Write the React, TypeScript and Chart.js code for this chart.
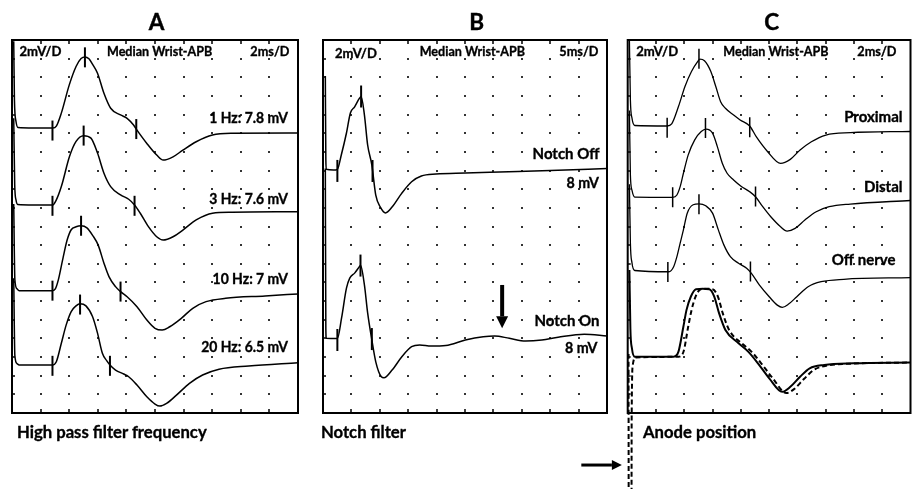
import React, { useEffect, useRef } from "react";
import { Chart, registerables } from "chart.js";

Chart.register(...registerables);

type Pt = [number, number];

// ================= Panel A : high pass filter (ms, mV relative to baseline) =================
const hpfLabels = ["1 Hz: 7.8 mV", "3 Hz: 7.6 mV", "10 Hz: 7 mV", "20 Hz: 6.5 mV"];
const hpf1Hz: Pt[] = [[0.12,9.3],[0.17,3.0],[0.28,0.7],[0.42,0.05],[1.5,0],[2.85,0],[3.1,0.2],[3.45,1.6],[4.0,4.6],[4.48,6.6],[4.83,7.45],[5.1,7.63],[5.38,7.42],[5.66,6.77],[5.98,5.88],[6.43,3.73],[6.9,2.12],[7.59,1.4],[8.05,1.04],[8.5,0.32],[8.74,-0.22],[9.43,-1.65],[10.12,-2.9],[10.57,-3.44],[11.26,-3.09],[11.95,-2.37],[12.88,-1.47],[14.02,-0.75],[15.4,-0.57],[20,-0.54]];
const hpf3Hz: Pt[] = [[0.12,9.3],[0.19,2.15],[0.28,0.54],[0.4,0.05],[1.5,0],[2.85,0],[3.1,0.54],[3.45,1.97],[4.02,5.19],[4.48,6.81],[5.01,7.42],[5.52,7.17],[5.98,5.56],[6.43,3.41],[6.9,1.97],[7.59,1.08],[8.16,0.61],[8.57,0],[8.97,-0.89],[9.54,-2.33],[10.12,-3.41],[10.57,-3.76],[11.26,-3.41],[11.95,-2.69],[12.88,-1.61],[14.02,-0.89],[15.4,-0.78],[20,-0.72]];
const hpf10Hz: Pt[] = [[0.12,9.3],[0.2,1.2],[0.35,0.2],[0.5,0],[2.83,0],[3.03,0.18],[3.24,1.15],[3.57,3.52],[3.86,5.45],[4.14,6.53],[4.48,6.85],[4.83,6.96],[5.24,6.74],[5.66,5.88],[6.02,4.91],[6.43,2.95],[6.78,1.51],[7.24,0.43],[7.59,-0.11],[8.05,-0.65],[8.74,-1.72],[9.43,-3.15],[10.0,-4.04],[10.5,-4.23],[11.03,-3.87],[11.84,-2.97],[12.64,-1.89],[13.57,-1.18],[14.94,-0.82],[17.7,-0.57],[20,-0.35]];
const hpf20Hz: Pt[] = [[0.12,9.3],[0.2,1.0],[0.35,0.15],[0.5,0],[2.83,0],[3.1,0.35],[3.45,2.33],[3.79,4.3],[4.14,5.73],[4.48,6.34],[4.76,6.56],[5.17,6.34],[5.63,5.19],[5.98,3.41],[6.32,1.26],[6.62,0.46],[6.85,0],[7.24,-0.54],[7.81,-0.97],[8.16,-1.26],[8.74,-2.15],[9.43,-3.41],[10.0,-4.19],[10.34,-4.41],[10.81,-4.12],[11.5,-3.23],[12.41,-1.97],[13.33,-1.08],[14.48,-0.46],[16.55,-0.11],[20,0.25]];
const hpfBaselines = [30.56, 22.31, 13.12, 5.15];
const hpfMarkers: Pt[][] = [
  [[2.83,-0.27],[5.1,7.58],[8.69,-0.11]],
  [[2.83,-0.09],[5.01,7.44],[8.57,-0.09]],
  [[2.83,0],[4.83,6.96],[7.59,-0.1]],
  [[2.83,-0.09],[4.76,6.48],[6.85,-0.09]],
];

// ================= Panel B : notch filter =================
const notchLabels = ["Notch Off", "8 mV", "Notch On", "8 mV"];
const notchOff: Pt[] = [[0.41,10.0],[0.5,1.0],[0.58,0],[1.84,-0.08],[2.53,0],[3.22,1.54],[4.13,3.9],[4.82,6.05],[5.57,6.7],[6.43,7.63],[6.71,7.81],[7.29,5.84],[7.86,2.61],[8.6,0.46],[9.29,-2.76],[10.1,-4.05],[11.01,-4.67],[12.16,-4.05],[13.88,-2.55],[15.6,-1.33],[17.32,-0.72],[19.9,-0.51],[25.06,-0.4],[31.08,-0.29],[40.02,-0.13],[50,0.09]];
const notchOn: Pt[] = [[0.41,18.2],[0.5,1.0],[0.58,0],[2.53,-0.02],[3.27,2.18],[4.13,5.38],[4.71,6.45],[5.57,6.99],[6.43,7.7],[6.6,7.83],[7.29,5.73],[7.86,2.72],[8.6,-0.18],[9.29,-2.52],[10.27,-4.13],[10.73,-4.24],[12.16,-3.41],[13.88,-1.98],[15.6,-0.9],[17.03,-0.72],[19.04,-0.83],[21.62,-0.77],[25.06,-0.18],[28.21,0.17],[30.22,0.25],[32.8,0],[35.67,-0.29],[38.53,-0.18],[41.4,0.11],[45.99,0.43],[50,0.25]];
const notchBaselines = [26.13, 8.01];
const notchMarkers: Pt[][] = [
  [[2.53,-0.17],[6.71,7.81],[8.72,-0.18]],
  [[2.53,-0.18],[6.6,7.8],[8.6,-0.08]],
];
const notchArrow = [31.54, 13.73, 9.08]; // ms, from mV, to mV

// ================= Panel C : anode position =================
const anodeLabels = ["Proximal", "Distal", "Off nerve"];
const anodeProximal: Pt[] = [[0.12,9.3],[0.19,2.8],[0.3,0.86],[0.5,0.05],[2.79,0],[3.11,0.22],[3.59,2.08],[4.05,4.23],[4.51,5.84],[4.97,6.95],[5.1,7.17],[5.43,6.99],[5.88,5.84],[6.23,4.23],[6.57,2.61],[6.91,1.9],[7.49,1.18],[7.95,0.65],[8.63,0],[9.09,-1.15],[9.9,-2.76],[10.81,-4.01],[11.5,-3.58],[12.19,-2.58],[12.99,-1.69],[14.02,-0.97],[15.76,-0.72],[20,-0.59]];
const anodeDistal: Pt[] = [[0.12,9.3],[0.19,2.4],[0.3,0.78],[0.5,0.03],[3.18,0],[3.48,0.25],[3.71,1.14],[3.94,2.58],[4.28,4.55],[4.74,6.16],[5.2,7.05],[5.54,7.31],[6.0,6.88],[6.34,5.44],[6.69,3.66],[7.03,2.58],[7.49,1.86],[8.06,1.14],[8.63,0.6],[9.04,0.06],[9.55,-1.01],[10.12,-2.09],[10.81,-3.16],[11.27,-3.62],[11.84,-3.33],[12.53,-2.44],[13.33,-1.55],[14.25,-1.01],[15.74,-0.72],[20,-0.34]];
const anodeOffNerve: Pt[] = [[0.12,9.3],[0.19,3.0],[0.3,0.9],[0.5,0.05],[2.91,-0.08],[3.25,0.46],[3.48,1.54],[3.71,2.98],[3.94,4.41],[4.21,6.2],[4.63,7.1],[5.04,7.2],[5.52,6.99],[6.0,6.2],[6.41,4.41],[6.8,2.8],[7.26,1.54],[7.84,0.83],[8.41,0.29],[8.75,-0.25],[9.32,-1.51],[10.01,-2.76],[10.58,-3.66],[10.93,-3.9],[11.38,-3.55],[11.96,-2.76],[12.76,-1.69],[13.68,-1.15],[15.28,-0.89],[20,-0.71]];
const anodeSolid: Pt[] = [[0.12,9.3],[0.19,3.0],[0.3,0.9],[0.5,0],[3.25,0],[3.59,0.54],[3.94,3.23],[4.16,5.02],[4.47,6.45],[4.83,7.23],[5.31,7.28],[5.77,7.23],[6.12,6.45],[6.46,4.67],[6.91,2.87],[7.84,1.44],[8.52,0.54],[9.21,-0.71],[10.01,-2.32],[10.93,-3.76],[11.5,-3.23],[12.19,-2.15],[12.87,-1.25],[13.9,-0.89],[15.97,-0.71],[20,-0.63]];
const anodeDashed: Pt[] = [[0.06,0.3],[0.07,-16],[0.27,-16],[0.28,-6.8],[0.36,-0.89],[0.57,-0.09],[3.59,0],[3.94,0.5],[4.28,3.23],[4.52,5.02],[4.8,6.45],[5.17,7.23],[5.58,7.28],[6.0,7.23],[6.38,6.45],[6.72,4.67],[7.17,2.87],[8.06,1.44],[8.75,0.54],[9.44,-0.71],[10.26,-2.32],[11.22,-3.9],[11.77,-3.47],[12.46,-2.4],[13.15,-1.43],[14.11,-0.95],[16.1,-0.73],[20,-0.63]];
const anodeBaselines = [30.78, 23.13, 15.23, 6.04];
const anodeMarkers: Pt[][] = [
  [[2.79,-0.2],[5.04,7.22],[8.63,-0.14]],
  [[3.18,0],[5.5,7.42],[9.04,0.1]],
  [[2.84,-0.1],[5.04,7.15],[8.68,-0.05]],
];
const anodeArrow = [-3.28, -0.41, -5.58]; // from ms, to ms, at mV

const headerTexts = ["2mV/D", "Median Wrist-APB"];

// ================= helpers =================
const FONT = "Lato, 'Open Sans', sans-serif";

function trace(points: Pt[], base: number, extra: any = {}) {
  return {
    data: points.map(([x, y]) => ({ x, y: y + base })),
    showLine: true,
    borderColor: "#000",
    borderWidth: 1.5,
    pointRadius: 0,
    cubicInterpolationMode: "monotone",
    fill: false,
    ...extra,
  };
}

function markers(points: Pt[], base: number, r: number, w: number) {
  return {
    data: points.map(([x, y]) => ({ x, y: y + base })),
    showLine: false,
    pointStyle: "line",
    pointRotation: 90,
    pointRadius: r,
    pointBorderWidth: w,
    pointBorderColor: "#000",
    pointBackgroundColor: "#000",
    borderColor: "#000",
  };
}

function drawArrow(ctx: CanvasRenderingContext2D, x1: number, y1: number, x2: number, y2: number, w: number, hl: number, hw: number) {
  const ang = Math.atan2(y2 - y1, x2 - x1);
  const bx = x2 - Math.cos(ang) * hl;
  const by = y2 - Math.sin(ang) * hl;
  ctx.lineWidth = w;
  ctx.beginPath();
  ctx.moveTo(x1, y1);
  ctx.lineTo(bx, by);
  ctx.stroke();
  ctx.beginPath();
  ctx.moveTo(x2, y2);
  ctx.lineTo(bx + Math.sin(ang) * hw / 2, by - Math.cos(ang) * hw / 2);
  ctx.lineTo(bx - Math.sin(ang) * hw / 2, by + Math.cos(ang) * hw / 2);
  ctx.closePath();
  ctx.fill();
}

const emgPlugin = {
  id: "emg",
  beforeDatasetsDraw(chart: any, _a: any, o: any) {
    const { ctx, chartArea: a, scales } = chart;
    const xs = scales.x, ys = scales.y;
    ctx.save();
    ctx.fillStyle = "#333";
    for (let i = 1; i < o.xDivs; i++) {
      const px = xs.getPixelForValue(xs.min + i * o.xStep);
      for (let j = 1; j < o.yDivs; j++) {
        const py = ys.getPixelForValue(ys.min + j * o.yStep);
        ctx.fillRect(Math.round(px) - 1, Math.round(py) - 1, 2, 2);
      }
    }
    ctx.strokeStyle = "#000";
    ctx.lineWidth = 1.5;
    ctx.beginPath();
    for (let i = 1; i < o.xDivs; i++) {
      const px = Math.round(xs.getPixelForValue(xs.min + i * o.xStep));
      ctx.moveTo(px, a.top);
      ctx.lineTo(px, a.top + 4);
      ctx.moveTo(px, a.bottom);
      ctx.lineTo(px, a.bottom - 4);
    }
    for (let j = 1; j < o.yDivs; j++) {
      const py = Math.round(ys.getPixelForValue(ys.min + j * o.yStep));
      ctx.moveTo(a.left, py);
      ctx.lineTo(a.left + 3, py);
    }
    ctx.stroke();
    ctx.restore();
  },
  afterDatasetsDraw(chart: any, _a: any, o: any) {
    const { ctx, chartArea: a, scales } = chart;
    const xs = scales.x, ys = scales.y;
    ctx.save();
    ctx.strokeStyle = "#000";
    ctx.fillStyle = "#000";
    ctx.lineWidth = 2;
    ctx.strokeRect(a.left, a.top, a.right - a.left, a.bottom - a.top);
    ctx.textBaseline = "middle";
    for (const t of o.texts) {
      ctx.save();
      ctx.font = `bold ${t.size}px ${FONT}`;
      const right = t.right !== undefined;
      const x = right ? a.right - t.right : a.left + t.left;
      ctx.translate(x, a.top + t.cy);
      ctx.scale(t.sx || 1, 1);
      ctx.textAlign = right ? "right" : "left";
      ctx.lineWidth = 0.35;
      ctx.fillText(t.text, 0, 0);
      ctx.strokeText(t.text, 0, 0);
      ctx.restore();
    }
    for (const ar of o.arrows || []) {
      drawArrow(
        ctx,
        xs.getPixelForValue(ar.x1), ys.getPixelForValue(ar.y1),
        xs.getPixelForValue(ar.x2), ys.getPixelForValue(ar.y2),
        ar.w, ar.hl, ar.hw
      );
    }
    ctx.restore();
  },
};

function Panel({ cfg }: { cfg: any }) {
  const ref = useRef<HTMLCanvasElement>(null);
  useEffect(() => {
    const chart = new Chart(ref.current as HTMLCanvasElement, {
      type: "scatter",
      data: { datasets: cfg.datasets },
      options: {
        responsive: false,
        maintainAspectRatio: false,
        animation: false,
        devicePixelRatio: 1,
        events: [],
        layout: { padding: cfg.padding },
        scales: {
          x: { type: "linear", display: false, min: cfg.xMin, max: cfg.xMax },
          y: { type: "linear", display: false, min: 0, max: 40 },
        },
        plugins: {
          legend: { display: false },
          tooltip: { enabled: false },
          emg: cfg.emg,
        } as any,
      },
      plugins: [emgPlugin as any],
    } as any);
    return () => chart.destroy();
  }, []);
  return (
    <canvas
      ref={ref}
      width={cfg.width}
      height={489}
      style={{ position: "absolute", left: cfg.left, top: 0, width: cfg.width, height: 489 }}
    />
  );
}

const HS = 13.5; // header font size
const LS = 15; // label font size

const panelA = {
  left: 0,
  width: 310,
  xMin: 0,
  xMax: 20,
  padding: { left: 10, right: 10, top: 40, bottom: 76 },
  datasets: [
    ...[hpf1Hz, hpf3Hz, hpf10Hz, hpf20Hz].map((p, i) => trace(p, hpfBaselines[i])),
    ...hpfMarkers.map((m, i) => markers(m, hpfBaselines[i], 10, 2)),
  ],
  emg: {
    xDivs: 10, xStep: 2, yDivs: 20, yStep: 2,
    texts: [
      { text: headerTexts[0], left: 7.5, cy: 12, size: HS, sx: 0.97 },
      { text: headerTexts[1], left: 95, cy: 12, size: HS, sx: 0.93 },
      { text: "2ms/D", right: 8.5, cy: 12, size: HS, sx: 0.94 },
      { text: hpfLabels[0], right: 10, cy: 78.3, size: LS, sx: 0.93 },
      { text: hpfLabels[1], right: 10, cy: 159, size: LS, sx: 0.93 },
      { text: hpfLabels[2], right: 10, cy: 239.3, size: LS, sx: 0.93 },
      { text: hpfLabels[3], right: 10, cy: 306.7, size: LS, sx: 0.93 },
    ],
  },
};

const panelB = {
  left: 310,
  width: 310,
  xMin: 0,
  xMax: 50,
  padding: { left: 9.3, right: 10, top: 40, bottom: 76 },
  datasets: [
    trace(notchOff, notchBaselines[0]),
    trace(notchOn, notchBaselines[1]),
    ...notchMarkers.map((m, i) => markers(m, notchBaselines[i], 11, 2)),
  ],
  emg: {
    xDivs: 10, xStep: 5, yDivs: 20, yStep: 2,
    texts: [
      { text: headerTexts[0], left: 12, cy: 14, size: HS, sx: 0.97 },
      { text: headerTexts[1], left: 96.7, cy: 12, size: HS, sx: 0.93 },
      { text: "5ms/D", right: 8.5, cy: 12, size: HS, sx: 0.94 },
      { text: notchLabels[0], right: 7.5, cy: 114, size: LS },
      { text: notchLabels[1], right: 8, cy: 142.7, size: LS, sx: 0.95 },
      { text: notchLabels[2], right: 7.5, cy: 280.7, size: LS },
      { text: notchLabels[3], right: 9.5, cy: 308.3, size: LS, sx: 0.95 },
    ],
    arrows: [
      { x1: notchArrow[0], y1: notchArrow[1], x2: notchArrow[0], y2: notchArrow[2], w: 4, hl: 12, hw: 12 },
    ],
  },
};

const panelC = {
  left: 560,
  width: 362,
  xMin: 0,
  xMax: 20,
  padding: { left: 67.7, right: 3, top: 40, bottom: 76 },
  datasets: [
    trace(anodeProximal, anodeBaselines[0], { borderWidth: 1.3 }),
    trace(anodeDistal, anodeBaselines[1], { borderWidth: 1.3 }),
    trace(anodeOffNerve, anodeBaselines[2], { borderWidth: 1.3 }),
    trace(anodeSolid, anodeBaselines[3], { borderWidth: 2 }),
    trace(anodeDashed, anodeBaselines[3], { borderWidth: 2, borderDash: [5, 3], clip: false }),
    ...anodeMarkers.map((m, i) => markers(m, anodeBaselines[i], 10, 1.5)),
  ],
  emg: {
    xDivs: 10, xStep: 2, yDivs: 20, yStep: 2,
    texts: [
      { text: headerTexts[0], left: 8.5, cy: 12, size: HS, sx: 0.97 },
      { text: headerTexts[1], left: 95.6, cy: 12, size: HS, sx: 0.93 },
      { text: "2ms/D", right: 14, cy: 12, size: HS, sx: 0.94 },
      { text: anodeLabels[0], right: 8, cy: 76.7, size: LS },
      { text: anodeLabels[1], right: 8, cy: 147.3, size: LS },
      { text: anodeLabels[2], right: 15, cy: 220, size: LS },
    ],
    arrows: [
      { x1: anodeArrow[0], y1: anodeArrow[2], x2: anodeArrow[1], y2: anodeArrow[2], w: 3, hl: 10, hw: 10 },
    ],
  },
};

const titles = [
  { text: "A", cx: 156.7 },
  { text: "B", cx: 476.7 },
  { text: "C", cx: 771.7 },
];
const captions = [
  { text: "High pass filter frequency", left: 17 },
  { text: "Notch filter", left: 321 },
  { text: "Anode position", left: 643 },
];

export default function App() {
  return (
    <div
      style={{
        position: "fixed",
        left: 0,
        top: 0,
        width: 912,
        height: 489,
        overflow: "hidden",
        background: "#fff",
        fontFamily: FONT,
        color: "#000",
      }}
    >
      <Panel cfg={panelA} />
      <Panel cfg={panelB} />
      <Panel cfg={panelC} />
      {titles.map((t) => (
        <div
          key={t.text}
          style={{
            position: "absolute",
            left: t.cx - 30,
            width: 60,
            top: 7,
            height: 30,
            lineHeight: "30px",
            textAlign: "center",
            fontSize: 22.5,
            fontWeight: 700,
            WebkitTextStroke: "0.4px #000",
          }}
        >
          {t.text}
        </div>
      ))}
      {captions.map((c) => (
        <div
          key={c.text}
          style={{
            position: "absolute",
            left: c.left,
            top: 421,
            height: 22,
            lineHeight: "22px",
            fontSize: 17,
            fontWeight: 700,
            whiteSpace: "nowrap",
            transform: "scaleX(0.98)",
            transformOrigin: "left center",
            WebkitTextStroke: "0.35px #000",
          }}
        >
          {c.text}
        </div>
      ))}
    </div>
  );
}
